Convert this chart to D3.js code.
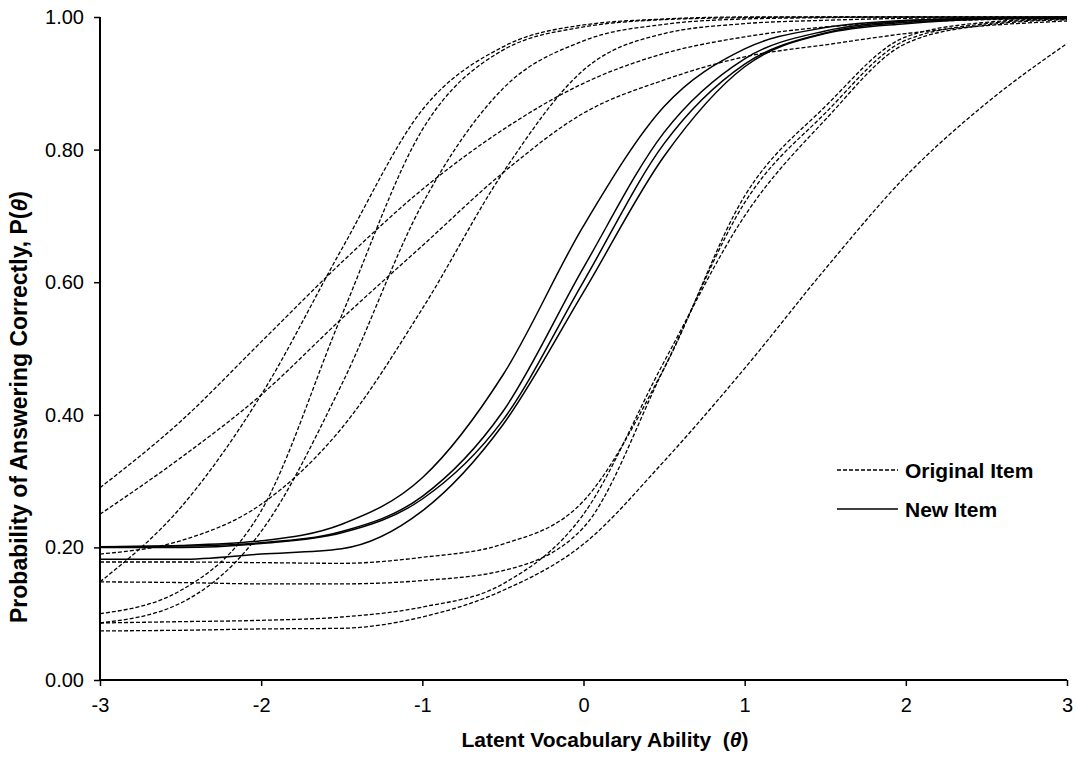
<!DOCTYPE html>
<html>
<head>
<meta charset="utf-8">
<script src="https://cdn.jsdelivr.net/npm/d3@7"></script>
<style>
  body { margin: 0; background: #fff; }
  svg { font-family: "Liberation Sans", Arial, sans-serif; }
</style>
</head>
<body>
<div id="chart"></div>
<script>
// ability grid (theta) the curves were read at
var thetaGrid = [-3, -2.5, -2, -1.5, -1, -0.5, 0, 0.5, 1, 1.5, 2, 2.5, 3];

// original items (dashed)
var orig1 = [0.290, 0.390, 0.510, 0.630, 0.740, 0.830, 0.900, 0.945, 0.970, 0.985, 0.992, 0.996, 0.998];
var orig2 = [0.250, 0.335, 0.430, 0.545, 0.655, 0.765, 0.855, 0.905, 0.940, 0.958, 0.975, 0.987, 0.994];
var orig3 = [0.190, 0.210, 0.265, 0.380, 0.560, 0.765, 0.920, 0.975, 0.990, 0.995, 0.998, 0.999, 1.000];
var orig4 = [0.148, 0.260, 0.430, 0.650, 0.860, 0.955, 0.988, 0.997, 1.000, 1.000, 1.000, 1.000, 1.000];
var orig5 = [0.100, 0.135, 0.255, 0.550, 0.830, 0.950, 0.985, 0.996, 0.999, 1.000, 1.000, 1.000, 1.000];
var orig6 = [0.086, 0.116, 0.224, 0.446, 0.718, 0.892, 0.964, 0.989, 0.997, 0.999, 1.000, 1.000, 1.000];
var orig7 = [0.178, 0.178, 0.177, 0.176, 0.185, 0.205, 0.270, 0.470, 0.730, 0.865, 0.970, 0.992, 0.998];
var orig8 = [0.148, 0.147, 0.145, 0.145, 0.150, 0.165, 0.230, 0.470, 0.720, 0.855, 0.965, 0.990, 0.997];
var orig9 = [0.086, 0.088, 0.090, 0.095, 0.110, 0.145, 0.250, 0.480, 0.700, 0.845, 0.960, 0.988, 0.996];
var orig10 = [0.074, 0.075, 0.077, 0.078, 0.095, 0.135, 0.205, 0.330, 0.470, 0.620, 0.760, 0.870, 0.960];

// new items (solid)
var new1 = [0.201, 0.203, 0.210, 0.235, 0.305, 0.460, 0.685, 0.865, 0.952, 0.984, 0.995, 0.998, 1.000];
var new2 = [0.201, 0.202, 0.207, 0.224, 0.277, 0.405, 0.622, 0.826, 0.937, 0.979, 0.994, 0.998, 0.999];
var new3 = [0.200, 0.200, 0.206, 0.222, 0.273, 0.392, 0.601, 0.809, 0.929, 0.976, 0.992, 0.997, 0.999];
var new4 = [0.182, 0.182, 0.190, 0.198, 0.255, 0.385, 0.585, 0.790, 0.925, 0.975, 0.990, 0.997, 0.999];

var yTicks = [0, 0.2, 0.4, 0.6, 0.8, 1];
var xTicks = [-3, -2, -1, 0, 1, 2, 3];

var originalItems = [orig1, orig2, orig3, orig4, orig5, orig6, orig7, orig8, orig9, orig10];
var newItems = [new1, new2, new3, new4];

var W = 1077, H = 757;
var plotLeft = 100, plotRight = 1067, plotTop = 17, plotBottom = 680;

var svg = d3.select("#chart").append("svg")
    .attr("width", W)
    .attr("height", H);

var x = d3.scaleLinear().domain([-3, 3]).range([plotLeft, plotRight]);
var y = d3.scaleLinear().domain([0, 1]).range([plotBottom, plotTop]);

var line = d3.line()
    .x(function (d, i) { return x(thetaGrid[i]); })
    .y(function (d) { return y(d); })
    .curve(d3.curveMonotoneX);

// dashed curves
svg.append("g").selectAll("path")
    .data(originalItems)
    .enter().append("path")
    .attr("d", line)
    .attr("fill", "none")
    .attr("stroke", "#000")
    .attr("stroke-width", 1.3)
    .attr("stroke-dasharray", "4,2");

// solid curves
svg.append("g").selectAll("path")
    .data(newItems)
    .enter().append("path")
    .attr("d", line)
    .attr("fill", "none")
    .attr("stroke", "#000")
    .attr("stroke-width", 1.5);

// axes
var yAxis = d3.axisLeft(y)
    .tickValues(yTicks)
    .tickFormat(d3.format(".2f"))
    .tickSize(6)
    .tickPadding(10);
var gy = svg.append("g").attr("transform", "translate(" + plotLeft + ",0)").call(yAxis);

var xAxis = d3.axisBottom(x)
    .tickValues(xTicks)
    .tickFormat(function (d) { return String(d); })
    .tickSize(6)
    .tickPadding(12);
var gx = svg.append("g").attr("transform", "translate(0," + plotBottom + ")").call(xAxis);

[gx, gy].forEach(function (g) {
    g.select(".domain").attr("stroke", "#000").attr("stroke-width", 2);
    g.selectAll(".tick line").attr("stroke", "#000").attr("stroke-width", 1.5);
    g.selectAll(".tick text")
        .attr("fill", "#000")
        .style("font-size", "20px")
        .style("font-family", "Liberation Sans, Arial, sans-serif");
});
// axis lines without end caps
gy.select(".domain").attr("d", "M0," + plotBottom + "V" + plotTop);
gx.select(".domain").attr("d", "M" + plotLeft + ",0H" + plotRight);

// axis titles
var xt = svg.append("text")
    .attr("x", 605)
    .attr("y", 747)
    .attr("text-anchor", "middle")
    .style("font-size", "21px")
    .style("font-weight", "bold");
xt.append("tspan").text("Latent Vocabulary Ability\u00a0\u00a0(");
xt.append("tspan").style("font-style", "italic").text("\u03b8");
xt.append("tspan").text(")");

var yt = svg.append("text")
    .attr("transform", "translate(27,407) rotate(-90)")
    .attr("text-anchor", "middle")
    .style("font-size", "23px")
    .style("font-weight", "bold");
yt.append("tspan").text("Probability of Answering Correctly, P(");
yt.append("tspan").style("font-style", "italic").text("\u03b8");
yt.append("tspan").text(")");

// legend
var legend = [
    { label: "Original Item", dash: "4,2", y: 470 },
    { label: "New Item", dash: null, y: 509 }
];
var lg = svg.append("g").selectAll("g").data(legend).enter().append("g");
lg.append("line")
    .attr("x1", 837).attr("x2", 898)
    .attr("y1", function (d) { return d.y; })
    .attr("y2", function (d) { return d.y; })
    .attr("stroke", "#000")
    .attr("stroke-width", 1.3)
    .attr("stroke-dasharray", function (d) { return d.dash; });
lg.append("text")
    .attr("x", 905)
    .attr("y", function (d) { return d.y + 8; })
    .style("font-size", "21px")
    .style("font-weight", "bold")
    .text(function (d) { return d.label; });
</script>
</body>
</html>
